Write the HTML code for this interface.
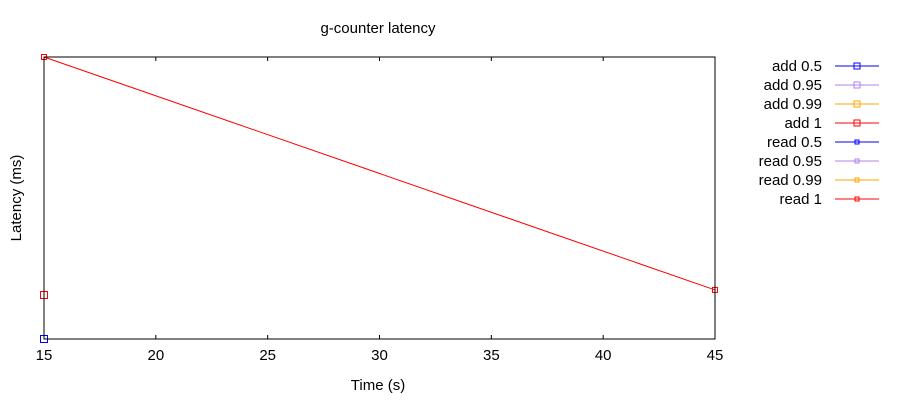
<!DOCTYPE html>
<html><head><meta charset="utf-8"><style>
body{margin:0;background:#fff;}
svg text{font-family:"Liberation Sans",sans-serif;font-size:15px;fill:#000;}
</style></head><body>
<svg id="chart" width="900" height="400" xmlns="http://www.w3.org/2000/svg">
<text x="378" y="33" text-anchor="middle">g-counter latency</text>
<text x="378" y="390" text-anchor="middle">Time (s)</text>
<text x="21" y="198" text-anchor="middle" transform="rotate(-90 21 198)">Latency (ms)</text>
<g id="ticks"></g>
<g id="series"></g>
<rect x="44" y="57" width="671" height="282" fill="none" stroke="#000" stroke-width="1"/>
<g id="legend"></g>
</svg>
<script>
const xTicks=[15,20,25,30,35,40,45];
const seriesNames=["add 0.5","add 0.95","add 0.99","add 1","read 0.5","read 0.95","read 0.99","read 1"];
const seriesColors=["#0000ff","#b080f0","#ffa500","#ff0000","#0000ff","#b080f0","#ffa500","#ff0000"];
const add05X=[15], add05Y=[0];
const add1X=[15], add1Y=[15.6];
const read1X=[15,45], read1Y=[100,17.4];
const X0=44,X1=715,Y0=339,Y1=57;
const xs=v=>X0+(v-15)/(45-15)*(X1-X0);
const ys=v=>Y0-(v-0)/(100-0)*(Y0-Y1);
const NS="http://www.w3.org/2000/svg";
function mk(t,a,p){const e=document.createElementNS(NS,t);for(const k in a)e.setAttribute(k,a[k]);p.appendChild(e);return e;}
const tg=document.getElementById('ticks');
xTicks.forEach(v=>{
 mk('line',{x1:xs(v),x2:xs(v),y1:Y0,y2:Y0-4,stroke:'#000'},tg);
 mk('line',{x1:xs(v),x2:xs(v),y1:Y1,y2:Y1+4,stroke:'#000'},tg);
 const t=mk('text',{x:xs(v),y:Y0+21,'text-anchor':'middle'},tg);t.textContent=v;
 
 
});
const sg=document.getElementById('series');
function draw(xsArr,ysArr,color,big,name){
 const g=mk('g',{},sg);
 
 
 if(xsArr.length>1)mk('polyline',{points:xsArr.map((x,i)=>xs(x)+','+ys(ysArr[i])).join(' '),fill:'none',stroke:color,'stroke-width':1},g);
 const s=big?7:5;
 xsArr.forEach((x,i)=>mk('rect',{x:xs(x)-s/2,y:ys(ysArr[i])-s/2,width:s,height:s,fill:'none',stroke:color},g));
}
draw(add05X,add05Y,seriesColors[0],true,'series-add-0-5');
draw(add1X,add1Y,seriesColors[3],true,'series-add-1');
draw(read1X,read1Y,seriesColors[7],false,'series-read-1');
const lg=document.getElementById('legend');
seriesNames.forEach((n,i)=>{
 const y=66+i*19;
 const g=mk('g',{},lg);
 
 
 const t=mk('text',{x:822,y:y+5,'text-anchor':'end'},g);t.textContent=n;
 mk('line',{x1:835,x2:879,y1:y,y2:y,stroke:seriesColors[i],'stroke-width':1},g);
 const s=i<4?6:4;
 mk('rect',{x:857-s/2,y:y-s/2,width:s,height:s,fill:'none',stroke:seriesColors[i]},g);
});
</script>
</body></html>
